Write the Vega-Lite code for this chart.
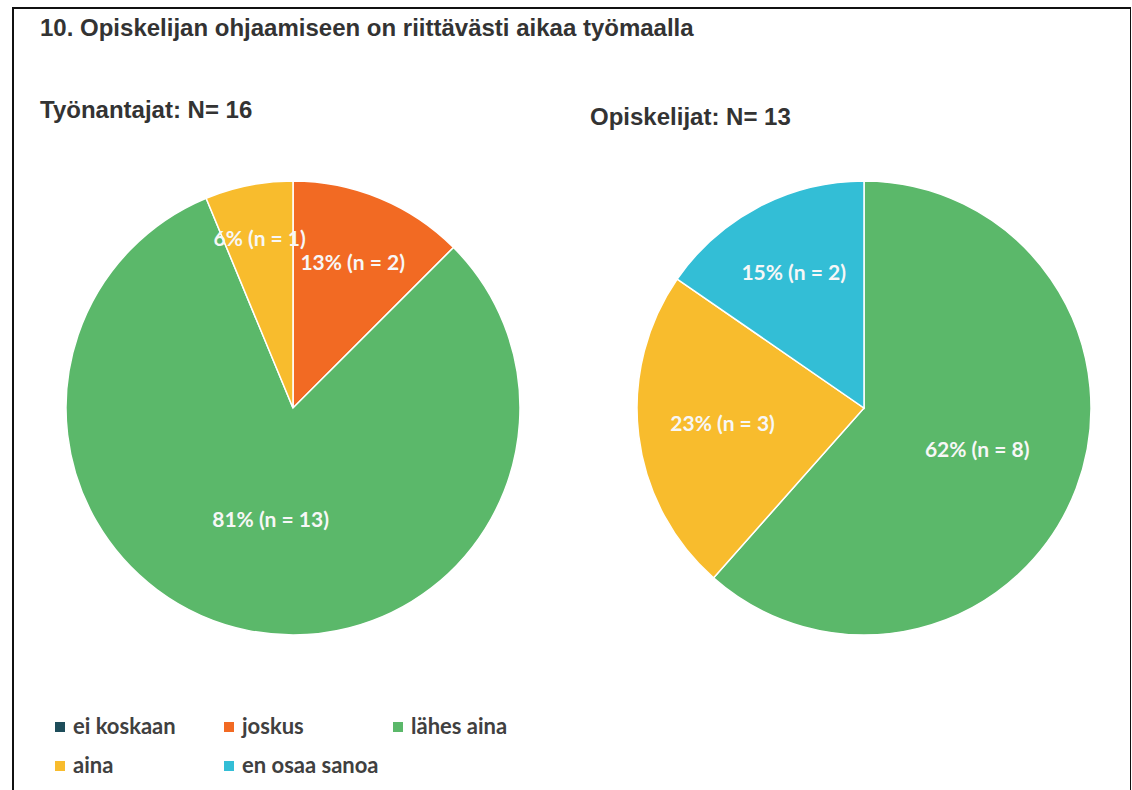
{
  "$schema": "https://vega.github.io/schema/vega-lite/v6.json",
  "width": 1118,
  "height": 800,
  "autosize": {"type": "none"},
  "padding": {"left": 13, "top": 8, "right": 0, "bottom": 0},
  "background": "#ffffff",
  "title": {
    "text": "10. Opiskelijan ohjaamiseen on riittävästi aikaa työmaalla",
    "anchor": "start",
    "frame": "group",
    "orient": "top",
    "offset": 0,
    "dx": 27,
    "dy": 52,
    "baseline": "alphabetic",
    "font": "Liberation Sans",
    "fontSize": 24,
    "fontWeight": "bold",
    "color": "#333333"
  },
  "datasets": {
    "slices": [
      {"group": "Työnantajat", "answer": "joskus", "order": 2, "n": 2, "label": "13% (n = 2)"},
      {"group": "Työnantajat", "answer": "lähes aina", "order": 3, "n": 13, "label": "81% (n = 13)"},
      {"group": "Työnantajat", "answer": "aina", "order": 4, "n": 1, "label": "6% (n = 1)"},
      {"group": "Opiskelijat", "answer": "lähes aina", "order": 3, "n": 8, "label": "62% (n = 8)"},
      {"group": "Opiskelijat", "answer": "aina", "order": 4, "n": 3, "label": "23% (n = 3)"},
      {"group": "Opiskelijat", "answer": "en osaa sanoa", "order": 5, "n": 2, "label": "15% (n = 2)"}
    ],
    "titles": [
      {"group": "Työnantajat", "title": "Työnantajat: N= 16"},
      {"group": "Opiskelijat", "title": "Opiskelijat: N= 13"}
    ]
  },
  "layer": [
    {
      "data": {"name": "slices"},
      "transform": [
        {"stack": "n", "groupby": ["group"], "sort": [{"field": "order", "order": "ascending"}], "offset": "normalize", "as": ["s0", "s1"]},
        {"calculate": "(datum.s0 + datum.s1) / 2", "as": "mid"},
        {"calculate": "datum.s1 - datum.s0", "as": "share"}
      ],
      "layer": [
        {
          "mark": {"type": "arc", "outerRadius": 227, "stroke": "#ffffff", "strokeWidth": 1.5},
          "encoding": {
            "x": {"field": "group", "type": "nominal", "scale": {"type": "point", "padding": 0, "domain": ["Työnantajat", "Opiskelijat"], "range": [280, 851]}, "axis": null},
            "theta": {"field": "s0", "type": "quantitative", "scale": {"domain": [0, 1], "zero": true}},
            "theta2": {"field": "s1"},
            "color": {
              "field": "answer",
              "type": "nominal",
              "scale": {
                "domain": ["ei koskaan", "joskus", "lähes aina", "aina", "en osaa sanoa"],
                "range": ["#1e4d5a", "#f26a23", "#5bb86a", "#f8bc2d", "#33bed6"]
              },
              "legend": {
                "title": null,
                "orient": "none",
                "legendX": 36,
                "legendY": 708,
                "direction": "horizontal",
                "columns": 3,
                "gridAlign": "all",
                "columnPadding": 8,
                "rowPadding": 17,
                "padding": 0,
                "symbolType": "square",
                "symbolSize": 100,
                "symbolStrokeWidth": 0,
                "labelFont": "Lato",
                "labelFontSize": 22,
                "labelFontWeight": "bold",
                "labelColor": "#404040",
                "labelOffset": 2,
                "labelLimit": 300
              }
            }
          }
        },
        {
          "mark": {"type": "text", "font": "Lato", "fontSize": 21, "fontWeight": "bold", "fill": "#f7f7f7", "align": "center", "baseline": "middle"},
          "encoding": {
            "x": {"field": "group", "type": "nominal", "scale": {"type": "point", "padding": 0, "domain": ["Työnantajat", "Opiskelijat"], "range": [280, 851]}, "axis": null},
            "theta": {"field": "mid", "type": "quantitative", "scale": {"domain": [0, 1], "zero": true}},
            "radius": {"field": "share", "type": "quantitative", "scale": {"type": "log", "domain": [0.0625, 0.8125], "range": [171, 115], "zero": false}},
            "text": {"field": "label", "type": "nominal"}
          }
        }
      ]
    },
    {
      "data": {"name": "titles"},
      "mark": {"type": "text", "align": "left", "baseline": "alphabetic", "font": "Liberation Sans", "fontSize": 24, "fontWeight": "bold", "fill": "#333333"},
      "encoding": {
        "x": {"field": "group", "type": "nominal", "scale": {"type": "point", "padding": 0, "domain": ["Työnantajat", "Opiskelijat"], "range": [27, 577]}, "axis": null},
        "y": {"field": "group", "type": "nominal", "scale": {"type": "point", "padding": 0, "domain": ["Työnantajat", "Opiskelijat"], "range": [110, 117]}, "axis": null},
        "text": {"field": "title", "type": "nominal"}
      }
    }
  ],
  "resolve": {"scale": {"x": "independent", "y": "independent"}},
  "config": {
    "view": {"stroke": "#111111", "strokeWidth": 2}
  }
}
